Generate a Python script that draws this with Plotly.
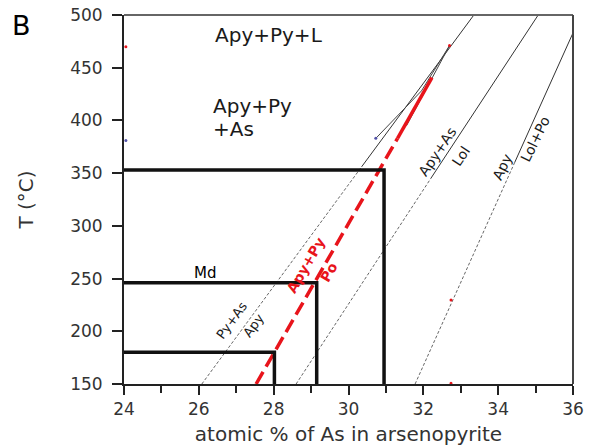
import plotly.graph_objects as go

# ---- data ----
x_range = [24, 36]
T_range = [150, 500]
x_ticks = [24, 26, 28, 30, 32, 34, 36]
T_ticks = [150, 200, 250, 300, 350, 400, 450, 500]

# thick black isotherm/composition boxes
box_T = [353, 246, 180]
box_x = [30.95, 29.15, 28.02]

# red Apy+Py / Po boundary (dashed part, then solid part)
red_dash_x = [27.53, 31.31]
red_dash_T = [150, 383]
red_solid_x = [31.31, 32.23]
red_solid_T = [383, 440.5]

# thin phase boundaries: dashed (low T) and solid (high T) parts
line1_x = [26.08, 30.35, 33.35]
line1_T = [150, 356, 500]
line2_x = [28.6, 32.2, 35.07]
line2_T = [150, 345, 500]
line3_x = [31.78, 34.44, 36.0]
line3_T = [150, 360, 483]

# Apy+Py+L loop near the top of the red boundary
loop_x = [30.73, 31.95, 32.7, 31.55]
loop_T = [383, 428, 471, 395]

# small marker dots
red_dot_x = [24.05, 32.7, 32.74, 32.74]
red_dot_T = [470, 471, 229.6, 150.8]
blue_dot_x = [24.05, 30.73]
blue_dot_T = [381, 383]

FONT = "DejaVu Sans"
BLACK = "#111111"
RED = "#e8141b"

W, H = 590, 448
L, R, T, B = 124, 17, 15, 64
PW, PH = W - L - R, H - T - B

fig = go.Figure()

def add_line(x, y, color, width, dash="solid"):
    fig.add_trace(go.Scatter(x=x, y=y, mode="lines",
                             line=dict(color=color, width=width, dash=dash),
                             hoverinfo="skip", showlegend=False))

# thin boundaries
for lx, lT in [(line1_x, line1_T), (line2_x, line2_T), (line3_x, line3_T)]:
    add_line(lx[:2], lT[:2], "#666666", 1, "3px,2px")
    add_line(lx[1:], lT[1:], "#333333", 1)
add_line(loop_x, loop_T, "#444444", 1)

# red boundary
add_line(red_dash_x, red_dash_T, RED, 3.5, "14px,6px")
add_line(red_solid_x, red_solid_T, RED, 3.5)

# thick black boxes
for bT, bx in zip(box_T, box_x):
    add_line([x_range[0], bx, bx], [bT, bT, T_range[0]], BLACK, 3.5)

# dots
fig.add_trace(go.Scatter(x=red_dot_x, y=red_dot_T, mode="markers",
                         marker=dict(color=RED, size=3), hoverinfo="skip", showlegend=False))
fig.add_trace(go.Scatter(x=blue_dot_x, y=blue_dot_T, mode="markers",
                         marker=dict(color="#5555aa", size=3), hoverinfo="skip", showlegend=False))

# ---- text ----
def ann(text, x, y, size, angle=0, color="#1a1a1a", xanchor="center", bold=False, xref="x", yref="y"):
    if bold:
        text = "<b>" + text + "</b>"
    fig.add_annotation(text=text, x=x, y=y, xref=xref, yref=yref, showarrow=False,
                       textangle=angle, xanchor=xanchor, yanchor="middle",
                       font=dict(family=FONT, size=size, color=color))

ann("Apy+Py+L", 26.38, 481, 20, xanchor="left")
ann("Apy+Py", 26.33, 413.7, 20, xanchor="left")
ann("+As", 26.33, 391.8, 20, xanchor="left")
ann("Md", 26.17, 255.5, 15, color="#000000")

ann("Py+As", 26.88, 210, 13, angle=-54)
ann("Apy", 27.46, 205.6, 13, angle=-54)
ann("Apy+Py", 28.86, 263, 14, angle=-60, color=RED, bold=True)
ann("Po", 29.48, 256, 14, angle=-60, color=RED, bold=True)
ann("Apy+As", 32.37, 370, 14, angle=-56)
ann("Lol", 33.01, 366.2, 14, angle=-56)
ann("Apy", 34.11, 355.8, 14, angle=-64)
ann("Lol+Po", 34.99, 382.4, 14, angle=-64)

ann("B", (21 - L) / PW, (H - B - 25) / PH, 27, xanchor="center",
    xref="paper", yref="paper", color="#000000")

# top and right frame (gray)
fig.add_shape(type="line", xref="paper", yref="paper", x0=0, x1=1, y0=1, y1=1,
              line=dict(color="#666666", width=2))
fig.add_shape(type="line", xref="paper", yref="paper", x0=1, x1=1, y0=0, y1=1,
              line=dict(color="#444444", width=2))

fig.update_xaxes(range=x_range, tickvals=x_ticks, ticks="outside", ticklen=9, tickwidth=2,
                 tickcolor="#222222", showline=True, linecolor="#222222", linewidth=2,
                 showgrid=False, zeroline=False, automargin=False, ticklabeloverflow="allow",
                 minor=dict(dtick=1, tick0=24, ticks="outside", ticklen=7, tickwidth=2,
                            tickcolor="#222222", showgrid=False),
                 tickfont=dict(family=FONT, size=17, color="#333333"),
                 title=dict(text="atomic % of As in arsenopyrite", standoff=9,
                            font=dict(family=FONT, size=20, color="#333333")))
fig.update_yaxes(range=T_range, tickvals=T_ticks, ticks="outside", ticklen=10, tickwidth=2,
                 tickcolor="#222222", showline=True, linecolor="#222222", linewidth=2,
                 showgrid=False, zeroline=False, ticklabelstandoff=6, automargin=False,
                 ticklabeloverflow="allow",
                 tickfont=dict(family=FONT, size=17, color="#333333"),
                 title=dict(text="T (°C)", standoff=31,
                            font=dict(family=FONT, size=20, color="#333333")))

fig.update_layout(width=W, height=H, margin=dict(l=L, r=R, t=T, b=B, autoexpand=False),
                  paper_bgcolor="white", plot_bgcolor="white", showlegend=False)

# remove the browser's default 8px body margin so the 590x448 figure fills the window
fig.write_html("out.html", config={"displayModeBar": False},
               post_script="document.body.style.margin='0';")
